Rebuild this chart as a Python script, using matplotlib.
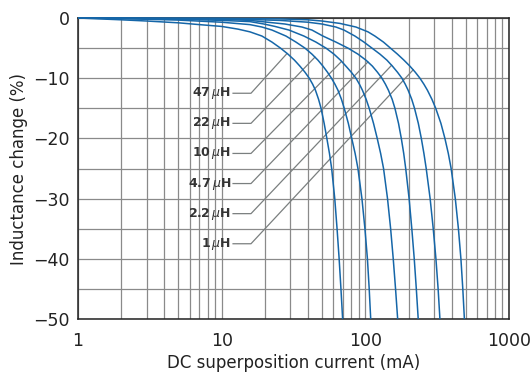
import numpy as np
import matplotlib
matplotlib.use("Agg")
import matplotlib.pyplot as plt
from matplotlib.ticker import FixedLocator, NullFormatter

# ---- data ----
labels = ["47", "22", "10", "4.7", "2.2", "1"]

i_47 = [1, 2, 3, 5, 7, 10, 13, 15.73, 19.07, 22.39, 25.66, 28.93, 32.11, 35.06, 37.99, 40.70,
        42.99, 44.96, 47.25, 49.18, 51.68, 53.97, 56.27, 58.29, 61.26, 63.56, 65.72, 67.65, 69.50]
v_47 = [0, -0.3, -0.5, -0.8, -1.1, -1.4, -1.85, -2.3, -3.0, -4.0, -5.0, -6.0, -7.0, -8.0, -9.0, -10,
        -11, -12, -13.5, -15, -17.5, -20, -22.5, -25, -30, -35, -40, -45, -50]

i_22 = [1, 2, 5, 10, 15.73, 19.07, 22.39, 28.03, 32.89, 37.99, 42.50, 46.79, 50.70, 54.49, 58.10,
        61.45, 64.48, 68.19, 71.32, 76.15, 80.42, 84.92, 88.82, 94.69, 99.36, 103.4, 106.4, 109.0]
v_22 = [0, -0.1, -0.35, -0.7, -1.1, -1.5, -2.0, -3, -4, -5, -6, -7, -8, -9, -10,
        -11, -12, -13.5, -15, -17.5, -20, -22.5, -25, -30, -35, -40, -45, -50]

i_10 = [1, 3, 5, 10, 15.73, 19.70, 23.49, 29.39, 37.38, 45.32, 53.19, 60.46, 67.10, 73.28, 79.79,
        86.03, 90.98, 95.46, 101.3, 106.4, 114.0, 121.0, 127.8, 133.9, 142.7, 150.0, 156.4, 162.3, 167.9]
v_10 = [0, -0.1, -0.2, -0.4, -0.6, -1.0, -1.4, -2, -3, -4, -5, -6, -7, -8, -9,
        -10, -11, -12, -13.5, -15, -17.5, -20, -22.5, -25, -30, -35, -40, -45, -50]

i_4p7 = [1, 10, 15.73, 27.57, 36.22, 42.50, 50.70, 62.42, 75.66, 88.82, 101.0, 112.0, 121.4, 130.5,
         138.0, 144.8, 153.7, 160.7, 170.2, 178.0, 185.0, 191.0, 201.7, 210.6, 219.0, 226.4, 233.4]
v_4p7 = [0, -0.2, -0.4, -1.0, -1.5, -2, -3, -4, -5, -6, -7, -8, -9, -10,
         -11, -12, -13.5, -15, -17.5, -20, -22.5, -25, -30, -35, -40, -45, -50]

i_2p2 = [1, 10, 25.46, 39.86, 49.89, 62.42, 70.98, 84.65, 97.79, 111.2, 126.4, 141.3, 154.4, 167.3,
         179.8, 189.6, 198.6, 210.3, 220.0, 233.8, 245.3, 255.7, 265.3, 282.5, 296.9, 310.0, 321.1, 330.5]
v_2p2 = [0, -0.1, -0.4, -0.7, -1.0, -1.5, -2, -3, -4, -5, -6, -7, -8, -9,
         -10, -11, -12, -13.5, -15, -17.5, -20, -22.5, -25, -30, -35, -40, -45, -50]

i_1 = [1, 10, 25.46, 39.86, 49.89, 66.56, 86.03, 104.3, 116.6, 133.7, 149.5, 167.3, 185.6, 204.3,
       222.5, 239.9, 255.7, 270.5, 290.7, 309.0, 335.8, 358.0, 378.1, 395.5, 422.9, 444.5, 462.7,
       476.9, 489.3]
v_1 = [0, -0.05, -0.15, -0.3, -0.5, -0.9, -1.5, -2.3, -3, -4, -5, -6, -7, -8,
       -9, -10, -11, -12, -13.5, -15, -17.5, -20, -22.5, -25, -30, -35, -40, -45, -50]

series_i = [i_47, i_22, i_10, i_4p7, i_2p2, i_1]
series_v = [v_47, v_22, v_10, v_4p7, v_2p2, v_1]

# leader endpoints on curves (current mA, change %) and label levels
leader_end_i = [28.5, 44.6, 68.4, 104.2, 152.4, 215.4]
leader_end_v = [-5.9, -6.5, -7.2, -7.3, -7.85, -8.6]
label_v = [-12.5, -17.5, -22.5, -27.5, -32.5, -37.5]

x_ticks = [1, 10, 100, 1000]
y_ticks = [0, -10, -20, -30, -40, -50]

# ---- figure ----
fig = plt.figure(figsize=(5.30, 3.76), dpi=100)
ax = fig.add_axes([78/530, 1-319/376, (509-78)/530, (319-18)/376])
ax.set_xscale("log")
ax.set_xlim(1, 1000)
ax.set_ylim(-50, 0)

grid_c = "#8a8a8a"
ax.xaxis.set_major_locator(FixedLocator(x_ticks))
ax.xaxis.set_minor_locator(FixedLocator([m * 10**k for k in range(3) for m in range(2, 10)]))
ax.xaxis.set_minor_formatter(NullFormatter())
ax.set_xticklabels([str(t) for t in x_ticks])
ax.set_yticks(y_ticks)
ax.set_yticks(np.arange(-45, 0, 10), minor=True)
ax.grid(True, which="both", color=grid_c, linewidth=0.9)
ax.set_axisbelow(True)

ax.tick_params(which="both", length=0)
ax.tick_params(axis="x", pad=9, labelsize=12.5, colors="#222222")
ax.tick_params(axis="y", pad=6, labelsize=12.5, colors="#222222")

for s in ax.spines.values():
    s.set_color("#222222")
    s.set_linewidth(1.1)

curve_c = "#1566a8"
for xi, yv in zip(series_i, series_v):
    ax.plot(xi, yv, color=curve_c, linewidth=1.1, clip_on=False, zorder=4,
            solid_capstyle="butt", solid_joinstyle="round")

# leaders and labels
lead_c = "#7a7f7f"
x_txt_end = 12.0
x_bend = 16.0
for lab, ei, ev, lv in zip(labels, leader_end_i, leader_end_v, label_v):
    ax.plot([x_txt_end, x_bend, ei], [lv, lv, ev], color=lead_c, linewidth=0.9, zorder=3)
    ax.text(11.6, lv, lab + r"$\,\mu$H", ha="right", va="center",
            fontsize=9, fontweight="bold", color="#333333", zorder=5)

ax.set_xlabel("DC superposition current (mA)", fontsize=12, color="#222222", labelpad=3)
ax.set_ylabel("Inductance change (%)", fontsize=12, color="#222222", labelpad=4)

fig.savefig("out.png", dpi=100)
